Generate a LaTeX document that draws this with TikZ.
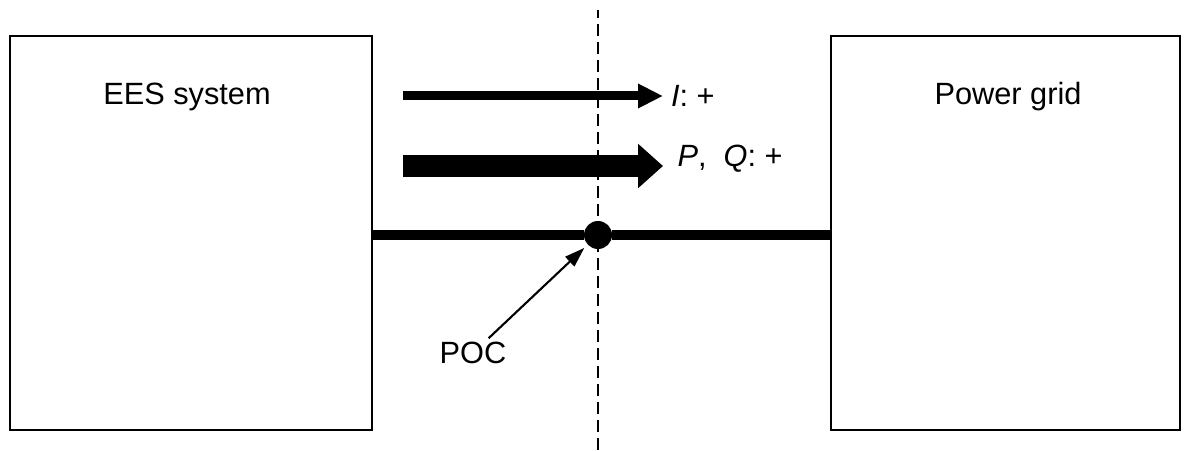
\documentclass[tikz,border=0pt]{standalone}
\usepackage{fontspec}
\setmainfont{Liberation Sans}
\usetikzlibrary{arrows.meta}
\tikzset{
  box/.style={draw,line width=1.4pt,inner sep=0pt},
  lbl/.style={font=\fontsize{17.5}{21}\selectfont},
}
\begin{document}
\begin{tikzpicture}
      \useasboundingbox (0,0) rectangle (23.78,9);
      \node[box,minimum width=7.24cm,minimum height=7.88cm] (ees) at (3.82,4.34) {};
      \node[box,minimum width=6.98cm,minimum height=7.88cm] (grid) at (20.11,4.34) {};
      \node[lbl] (eeslabel) at (3.74,7.06) {EES system};
      \node[lbl] (gridlabel) at (20.16,7.06) {Power grid};

      \draw[line width=1.6pt,dash pattern=on 0.24cm off 0.12cm] (11.96,0) -- (11.96,8.8);
      \node[circle,fill,minimum size=0.56cm,inner sep=0pt] (poc) at (11.96,4.3) {};
      \draw[line width=0.2cm] (ees.east |- poc) -- (poc) -- (grid.west |- poc);

      \coordinate (i0) at (8.06,7.08);
      \coordinate (i1) at (13.26,7.08);
      \draw[line width=0.18cm,-{Triangle[length=0.5cm,width=0.46cm]}] (i0) -- (i1)
        node[lbl,right,inner sep=2pt] (ilabel) {\textit{I}: +};
      \coordinate (p0) at (8.06,5.68);
      \coordinate (p1) at (13.26,5.68);
      \draw[line width=0.44cm,-{Triangle[length=0.5cm,width=0.86cm]}] (p0) -- (p1)
        node[lbl,right,inner sep=2pt,yshift=0.14cm] (plabel) {\textit{P}, \ \textit{Q}: +};

      \node[lbl,inner sep=2pt] (poclabel) at (9.46,1.94) {POC};
      \draw[line width=1.2pt,-{Triangle[length=0.4cm,width=0.26cm]},shorten >=0.09cm] (poclabel) -- (poc);
    \end{tikzpicture}
\end{document}
